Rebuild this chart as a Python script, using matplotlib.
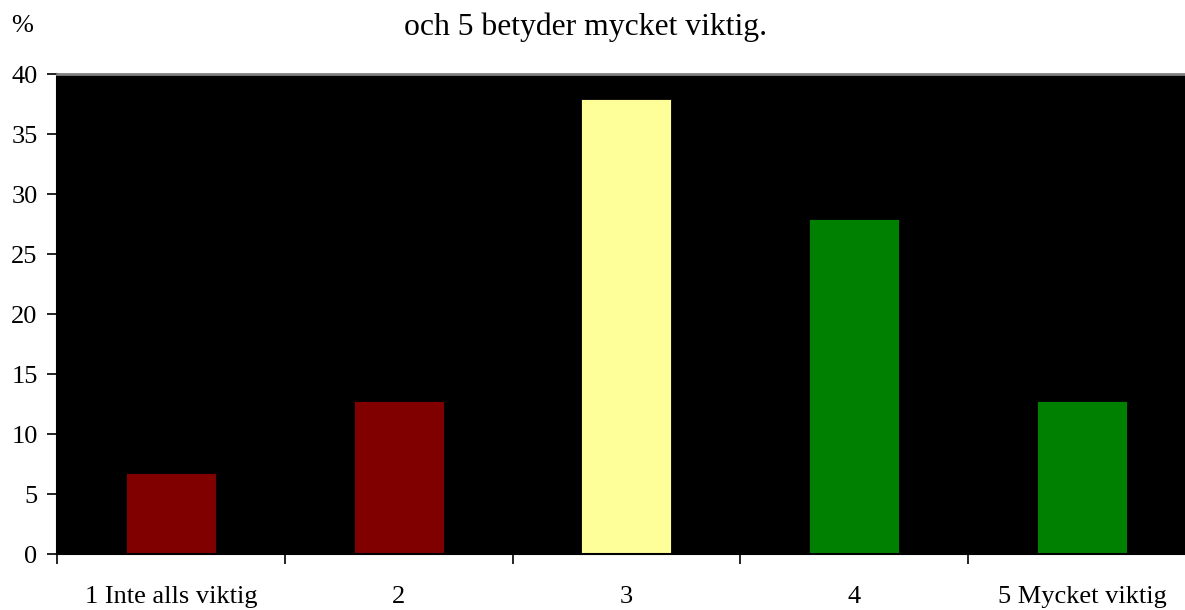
import numpy as np
import matplotlib.pyplot as plt

plt.rcParams['font.family'] = ['Liberation Serif', 'DejaVu Serif']

# Data
categories = ['1 Inte alls viktig', '2', '3', '4', '5 Mycket viktig']
values = [6.8, 12.8, 37.9, 27.9, 12.8]
bar_colors = ['#800000', '#800000', '#FFFF99', '#008000', '#008000']
y_ticks = [0, 5, 10, 15, 20, 25, 30, 35, 40]

fig = plt.figure(figsize=(11.85, 6.1), dpi=100)
# plot area runs a little past the right edge of the picture, like the reference
ax = fig.add_axes([57 / 1185, 55.7 / 610, 1138.75 / 1185, 480 / 610])
ax.set_facecolor('black')

x = np.arange(len(categories))
ax.bar(x, values, width=0.395, color=bar_colors, edgecolor='black', linewidth=0.6)

ax.set_xlim(-0.5, len(categories) - 0.5)
ax.set_ylim(0, 40)
ax.set_yticks(y_ticks)
ax.tick_params(axis='y', labelsize=19, length=7, width=1.2, pad=7, direction='out')

# category boundaries carry the tick marks, labels sit at the centres
ax.set_xticks(np.arange(len(categories) + 1) - 0.5)
ax.set_xticklabels([])
ax.set_xticks(x, minor=True)
ax.set_xticklabels(categories, minor=True)
ax.tick_params(axis='x', which='major', length=7, width=1.2, direction='out')
ax.tick_params(axis='x', which='minor', length=0, labelsize=19, pad=23)

ax.spines['left'].set_color('black')
ax.spines['bottom'].set_color('black')
ax.spines['left'].set_linewidth(1.5)
ax.spines['bottom'].set_linewidth(1.5)
ax.spines['top'].set_color('#808080')
ax.spines['right'].set_color('#808080')
ax.spines['top'].set_linewidth(2)

fig.text(586 / 1185, (610 - 35) / 610, 'och 5 betyder mycket viktig.',
         ha='center', va='baseline', fontsize=22.8)
fig.text(22 / 1185, (610 - 26) / 610, '%', ha='center', va='center', fontsize=19)

fig.savefig('out.png', dpi=100)
